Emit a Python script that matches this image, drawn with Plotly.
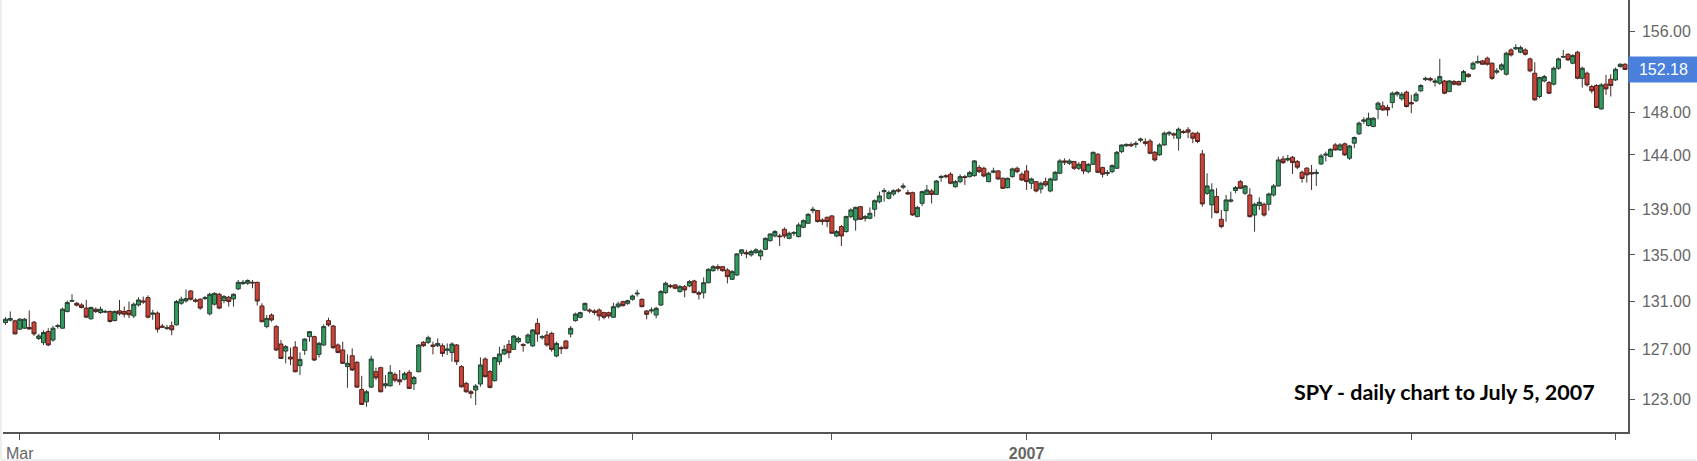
import math
import pandas as pd
import plotly.graph_objects as go

# ---- trading calendar (categories) ----
holidays = ['2006-04-14', '2006-05-29', '2006-07-04', '2006-09-04', '2006-11-23',
            '2006-12-25', '2007-01-01', '2007-01-02', '2007-01-15', '2007-02-19',
            '2007-04-06', '2007-05-28', '2007-07-04']
dates = [d.strftime('%Y-%m-%d') for d in pd.bdate_range('2006-02-24', '2007-07-05')
         if d.strftime('%Y-%m-%d') not in holidays]

tick_dates = ['2006-03-01', '2006-05-01', '2006-07-03', '2006-09-01', '2006-11-01',
              '2007-01-03', '2007-03-01', '2007-05-01', '2007-07-02']
tick_labels = ['Mar', '', '', '', '', '<b>2007</b>', '', '', '']

price_ticks = [123, 127, 131, 135, 139, 144, 148, 156]
last_price = 152.18

# ---- SPY daily OHLC ----
opens = [
    129.23, 129.43, 129.37, 128.68, 128.76, 128.82, 129.26, 127.90, 127.56, 128.48,
    127.78, 128.90, 128.76, 130.16, 131.02, 130.85, 130.71, 130.44, 129.54, 130.35,
    130.07, 130.10, 130.16, 129.40, 130.21, 130.16, 130.24, 129.79, 130.71, 131.05,
    131.33, 129.93, 130.02, 128.93, 128.73, 128.96, 129.04, 130.85, 131.05, 131.89,
    131.13, 131.19, 131.24, 129.96, 130.77, 131.61, 131.08, 131.36, 131.22, 132.07,
    132.52, 132.55, 132.63, 132.63, 130.62, 128.89, 129.86, 128.89, 127.45, 126.87,
    126.38, 127.20, 125.68, 126.93, 128.06, 128.06, 126.60, 127.37, 129.39, 128.94,
    127.37, 126.96, 125.60, 126.49, 125.95, 123.77, 122.78, 123.95, 125.19, 125.52,
    124.06, 124.06, 124.97, 124.54, 124.59, 125.14, 124.22, 125.19, 127.59, 127.59,
    127.37, 127.31, 127.31, 126.93, 126.76, 127.37, 125.60, 124.25, 123.58, 123.72,
    124.20, 126.22, 125.20, 124.47, 126.00, 126.63, 127.42, 127.01, 127.64, 127.42,
    127.56, 127.29, 129.16, 127.97, 128.19, 128.33, 126.47, 127.15, 127.70, 128.27,
    129.39, 129.67, 130.28, 130.28, 130.20, 130.28, 130.06, 130.06, 129.67, 130.56,
    130.98, 130.84, 131.18, 131.64, 131.18, 130.20, 130.20, 129.86, 130.70, 131.75,
    132.35, 132.41, 131.84, 132.26, 132.32, 132.75, 131.74, 131.74, 132.60, 133.63,
    133.98, 133.98, 133.69, 132.89, 133.26, 135.15, 135.20, 135.00, 135.20, 134.91,
    135.49, 136.25, 136.66, 136.66, 137.25, 136.45, 136.90, 136.60, 137.43, 137.79,
    138.92, 138.92, 138.08, 138.32, 138.44, 136.66, 137.49, 137.05, 138.38, 138.08,
    139.27, 138.23, 138.23, 139.04, 139.72, 140.63, 140.03, 140.42, 140.79, 141.03,
    140.54, 140.54, 138.38, 139.57, 140.38, 140.69, 140.38, 141.92, 142.09, 142.22,
    141.08, 141.54, 142.00, 142.00, 142.09, 142.83, 142.77, 141.54, 142.40, 142.52,
    141.85, 140.99, 142.00, 142.77, 142.22, 142.52, 141.39, 141.54, 140.87, 141.54,
    140.69, 141.69, 142.31, 143.45, 143.23, 143.39, 142.77, 143.39, 142.46, 143.14,
    144.07, 142.83, 142.28, 142.46, 142.77, 144.31, 144.86, 144.99, 144.99, 145.37,
    145.24, 145.30, 144.25, 144.01, 144.94, 145.98, 145.98, 145.57, 146.20, 146.36,
    146.04, 146.04, 144.10, 140.48, 139.43, 140.18, 138.14, 138.91, 139.76, 140.73,
    141.54, 140.48, 140.33, 138.52, 139.37, 139.49, 139.49, 140.33, 141.15, 143.63,
    143.54, 143.79, 143.39, 142.40, 142.78, 142.37, 142.28, 143.17, 143.98, 143.85,
    144.94, 144.47, 145.04, 143.70, 145.10, 145.98, 147.17, 146.77, 146.67, 148.32,
    148.64, 148.48, 148.96, 149.77, 149.32, 149.97, 148.96, 149.13, 150.09, 151.18,
    151.28, 150.92, 150.83, 151.05, 150.02, 150.99, 150.99, 150.99, 151.71, 152.23,
    152.83, 153.02, 153.29, 152.79, 151.91, 152.20, 151.71, 154.11, 154.21, 153.88,
    154.11, 153.22, 151.81, 149.54, 151.05, 150.89, 150.74, 152.30, 153.39, 153.68,
    152.79, 153.88, 151.31, 151.81, 150.51, 150.61, 148.35, 150.74, 151.22, 151.15,
    152.46, 152.69,
]
highs = [
    129.68, 130.16, 129.46, 129.60, 129.60, 130.24, 129.37, 128.29, 128.57, 128.76,
    128.96, 129.12, 130.49, 131.08, 131.61, 130.96, 130.85, 131.13, 130.57, 130.49,
    130.57, 130.30, 130.24, 130.24, 131.13, 130.57, 130.99, 130.91, 131.36, 131.41,
    131.52, 130.30, 130.16, 129.12, 129.04, 129.32, 131.13, 131.41, 132.02, 131.97,
    131.27, 131.27, 131.47, 131.75, 131.77, 131.75, 131.55, 131.47, 131.69, 132.83,
    132.83, 132.89, 132.83, 132.69, 130.85, 129.86, 130.00, 129.03, 127.78, 127.37,
    127.15, 127.69, 126.76, 127.91, 128.53, 128.14, 127.64, 129.08, 129.64, 129.03,
    127.50, 127.64, 126.60, 127.09, 126.06, 124.86, 123.72, 126.49, 125.52, 125.60,
    124.92, 125.73, 125.14, 125.33, 125.19, 125.33, 124.86, 127.42, 127.69, 128.14,
    127.64, 127.91, 127.50, 127.50, 127.59, 127.45, 125.73, 124.38, 123.72, 124.20,
    126.36, 126.36, 125.33, 126.41, 127.23, 127.37, 127.78, 128.19, 128.06, 127.50,
    128.33, 128.69, 129.58, 128.19, 128.55, 128.47, 127.64, 127.29, 127.78, 128.94,
    130.06, 130.14, 130.90, 130.42, 130.34, 130.42, 130.14, 130.14, 130.90, 130.98,
    131.07, 131.15, 131.58, 131.98, 131.27, 130.28, 130.51, 130.56, 131.98, 132.69,
    132.49, 132.49, 132.41, 132.41, 132.83, 132.85, 131.91, 133.06, 133.84, 134.12,
    134.18, 134.04, 133.84, 133.69, 135.15, 135.49, 135.44, 135.44, 135.58, 135.49,
    136.54, 136.87, 137.19, 136.84, 137.43, 137.05, 137.10, 137.85, 138.14, 138.68,
    139.27, 138.98, 138.23, 138.38, 138.53, 137.19, 137.64, 138.47, 139.12, 139.27,
    139.33, 138.53, 139.21, 139.93, 140.63, 140.94, 140.72, 140.85, 140.94, 141.39,
    140.79, 140.63, 139.33, 140.72, 141.24, 140.87, 141.69, 142.16, 142.22, 142.40,
    141.69, 142.22, 142.16, 142.53, 143.54, 143.07, 142.92, 142.46, 142.83, 142.61,
    141.91, 141.91, 142.83, 142.92, 142.40, 143.07, 141.91, 141.60, 141.54, 141.91,
    141.91, 142.52, 143.63, 143.69, 143.63, 143.45, 143.33, 143.45, 143.23, 144.31,
    144.16, 142.92, 142.61, 143.14, 144.37, 144.99, 145.08, 145.18, 145.30, 145.62,
    145.56, 145.49, 144.37, 145.10, 146.20, 146.26, 146.11, 146.58, 146.36, 146.61,
    146.14, 146.20, 144.47, 142.31, 141.39, 140.94, 138.97, 140.33, 140.64, 141.15,
    141.69, 141.24, 140.94, 139.64, 140.12, 139.64, 140.54, 141.33, 143.85, 143.91,
    144.01, 143.91, 143.54, 142.56, 142.87, 143.07, 142.68, 144.10, 144.32, 144.63,
    145.10, 145.10, 145.16, 144.94, 145.73, 147.14, 147.55, 147.99, 147.55, 149.06,
    149.06, 148.74, 150.02, 150.09, 149.97, 150.09, 149.70, 149.97, 150.74, 151.48,
    151.44, 151.31, 153.22, 151.15, 151.15, 151.15, 151.09, 152.14, 151.81, 152.96,
    153.55, 153.12, 153.45, 152.89, 152.30, 152.79, 153.94, 154.27, 154.68, 154.54,
    154.27, 153.35, 152.89, 151.48, 151.64, 151.05, 152.46, 153.35, 154.11, 153.78,
    153.68, 154.01, 152.46, 151.97, 150.67, 150.74, 150.83, 151.64, 151.71, 152.36,
    152.79, 152.79,
]
lows = [
    129.04, 129.32, 128.23, 128.62, 128.70, 128.62, 128.12, 127.78, 127.37, 127.28,
    127.64, 128.73, 128.70, 130.07, 130.96, 130.57, 130.41, 129.60, 129.49, 130.02,
    129.96, 130.02, 129.23, 129.32, 129.82, 129.65, 129.60, 129.60, 130.57, 130.80,
    129.57, 129.46, 128.40, 128.76, 128.62, 128.17, 128.98, 130.71, 130.91, 131.08,
    130.91, 130.30, 131.13, 129.82, 130.66, 130.35, 130.85, 130.57, 130.57, 131.98,
    132.41, 132.41, 132.12, 130.65, 129.25, 128.75, 129.30, 126.87, 126.22, 125.87,
    125.73, 125.14, 124.92, 126.55, 127.64, 126.06, 126.33, 127.28, 128.89, 127.04,
    126.68, 125.82, 123.90, 125.25, 123.90, 122.52, 122.39, 123.90, 124.51, 123.53,
    123.85, 123.98, 124.33, 124.11, 124.49, 123.80, 123.72, 125.14, 127.20, 127.45,
    126.60, 127.20, 126.41, 126.55, 126.00, 125.73, 123.90, 123.50, 123.05, 122.52,
    123.99, 124.73, 123.85, 124.39, 125.74, 126.55, 126.28, 126.96, 127.50, 126.82,
    127.45, 127.23, 127.64, 127.83, 127.23, 126.82, 126.36, 126.63, 127.01, 128.00,
    129.30, 129.58, 130.20, 130.00, 129.86, 129.39, 129.50, 129.58, 129.61, 130.42,
    130.56, 130.70, 131.07, 131.41, 130.51, 129.50, 130.00, 129.58, 130.62, 131.64,
    132.12, 132.04, 131.75, 131.35, 132.21, 131.70, 131.16, 131.25, 132.54, 133.55,
    133.63, 133.55, 132.54, 132.83, 133.17, 134.91, 134.71, 134.85, 135.09, 134.56,
    135.44, 136.16, 136.54, 135.78, 136.45, 136.37, 136.66, 136.54, 137.34, 137.73,
    138.68, 137.85, 137.64, 137.43, 136.84, 136.54, 135.78, 136.96, 138.23, 137.13,
    138.08, 137.94, 138.14, 138.38, 139.57, 139.72, 139.93, 140.24, 140.54, 140.85,
    140.33, 138.44, 138.32, 139.33, 140.32, 139.56, 140.32, 141.54, 141.85, 141.30,
    140.99, 141.39, 141.24, 141.92, 142.00, 142.31, 141.94, 141.48, 142.31, 141.69,
    140.87, 140.93, 141.91, 142.31, 141.60, 140.78, 140.87, 140.57, 140.47, 141.08,
    140.57, 141.60, 142.22, 143.07, 143.07, 142.61, 142.61, 142.22, 142.31, 143.07,
    142.31, 141.92, 142.06, 142.31, 142.71, 144.16, 144.74, 144.74, 144.67, 145.18,
    144.86, 144.06, 143.39, 143.91, 144.84, 145.79, 145.51, 144.41, 145.98, 145.57,
    145.10, 145.10, 139.27, 140.33, 138.23, 138.67, 137.34, 137.93, 139.64, 140.48,
    140.85, 140.33, 138.29, 137.04, 138.97, 138.38, 138.91, 140.18, 141.09, 143.17,
    143.39, 142.25, 142.68, 141.45, 141.45, 140.79, 141.15, 143.07, 143.39, 143.79,
    144.41, 144.38, 143.91, 143.54, 144.63, 145.88, 146.93, 146.67, 146.61, 147.36,
    148.16, 147.68, 148.42, 149.54, 149.13, 148.48, 147.94, 149.00, 149.97, 151.05,
    150.99, 150.51, 150.67, 149.77, 149.97, 150.61, 150.61, 150.92, 151.38, 152.14,
    152.76, 152.63, 152.56, 151.15, 151.71, 152.04, 151.58, 153.45, 154.11, 153.78,
    153.55, 151.91, 149.13, 149.38, 150.92, 149.77, 150.61, 152.14, 153.35, 153.02,
    152.69, 151.22, 150.41, 150.51, 149.86, 148.42, 148.26, 149.70, 149.54, 151.05,
    152.36, 152.11,
]
closes = [
    129.51, 129.57, 128.29, 129.51, 129.51, 128.70, 128.29, 128.12, 128.40, 127.37,
    128.76, 128.96, 130.35, 130.91, 131.08, 130.69, 130.49, 129.68, 130.49, 130.16,
    130.35, 130.16, 129.32, 130.16, 129.96, 129.93, 129.88, 130.77, 131.13, 130.96,
    129.68, 130.02, 128.68, 128.84, 128.79, 128.62, 130.99, 131.19, 131.24, 131.19,
    131.02, 130.44, 131.33, 131.61, 131.69, 130.44, 131.41, 130.99, 131.61, 132.63,
    132.63, 132.78, 132.58, 131.04, 129.30, 129.58, 129.44, 126.96, 126.27, 127.23,
    126.22, 125.19, 126.19, 127.86, 128.47, 126.14, 127.50, 128.89, 129.03, 127.15,
    126.76, 125.87, 125.87, 125.33, 123.95, 122.57, 123.58, 126.22, 124.70, 123.58,
    124.22, 125.14, 124.51, 124.38, 125.03, 123.85, 124.73, 127.37, 127.31, 127.97,
    127.26, 127.50, 126.68, 127.04, 127.45, 126.00, 123.98, 123.58, 123.45, 124.04,
    125.74, 124.79, 123.93, 126.33, 126.63, 127.01, 126.74, 128.11, 127.92, 127.34,
    128.19, 128.61, 128.27, 128.06, 127.37, 127.01, 127.50, 127.07, 127.10, 128.75,
    129.94, 130.06, 130.84, 130.20, 130.08, 129.78, 129.67, 129.78, 130.56, 130.79,
    130.65, 131.07, 131.47, 131.70, 130.56, 129.92, 130.28, 130.42, 131.84, 132.55,
    132.26, 132.12, 132.26, 131.98, 132.69, 131.75, 131.62, 132.60, 133.75, 133.98,
    133.84, 133.63, 133.12, 133.55, 135.09, 135.44, 135.09, 135.29, 135.44, 135.35,
    136.45, 136.84, 137.05, 136.60, 136.66, 136.90, 136.96, 137.64, 138.02, 138.59,
    139.04, 137.94, 137.94, 137.94, 136.90, 137.05, 136.66, 138.38, 138.98, 139.21,
    138.14, 138.38, 138.68, 139.81, 140.24, 140.72, 140.54, 140.72, 140.69, 141.15,
    140.42, 138.53, 139.21, 140.63, 140.78, 140.38, 141.60, 142.00, 142.00, 141.39,
    141.54, 142.00, 141.92, 142.37, 143.45, 142.46, 142.06, 142.31, 142.52, 141.79,
    140.93, 141.85, 142.71, 142.46, 141.69, 141.54, 141.79, 140.69, 141.39, 141.24,
    141.79, 142.40, 143.45, 143.33, 143.45, 142.77, 143.14, 142.52, 143.14, 144.25,
    142.40, 142.22, 142.37, 143.01, 144.25, 144.93, 144.99, 144.86, 145.08, 145.49,
    145.08, 144.16, 143.54, 144.94, 146.04, 146.11, 145.88, 146.42, 146.11, 146.14,
    145.57, 145.26, 139.52, 141.15, 140.79, 138.73, 137.49, 139.88, 139.88, 141.00,
    140.94, 141.15, 138.38, 139.49, 139.67, 138.52, 140.42, 141.15, 143.54, 143.29,
    143.67, 143.29, 142.87, 141.84, 142.16, 142.25, 142.40, 143.91, 144.07, 144.53,
    144.47, 144.94, 144.01, 144.84, 145.63, 146.99, 147.30, 147.46, 147.46, 148.90,
    148.25, 148.25, 149.86, 149.93, 149.77, 148.58, 148.83, 149.77, 150.61, 151.31,
    151.15, 151.05, 151.48, 149.86, 151.05, 150.74, 150.67, 151.97, 151.48, 152.79,
    152.96, 152.69, 152.69, 151.31, 152.04, 152.63, 153.78, 153.61, 154.34, 154.34,
    153.68, 152.04, 149.22, 151.38, 151.48, 149.86, 152.30, 153.22, 153.45, 153.12,
    153.55, 151.31, 152.30, 150.67, 150.09, 148.48, 150.67, 150.28, 150.61, 152.20,
    152.69, 152.18,
]

n = len(dates)
assert n == len(opens) == len(highs) == len(lows) == len(closes), (n, len(opens), len(highs), len(lows), len(closes))

fig = go.Figure(go.Candlestick(
    x=dates, open=opens, high=highs, low=lows, close=closes,
    increasing=dict(line=dict(color='#2b3d33', width=1), fillcolor='#2f9c5e'),
    decreasing=dict(line=dict(color='#4d2622', width=1), fillcolor='#cc4338'),
    whiskerwidth=0, hoverinfo='skip', showlegend=False,
))

tick_font = dict(family='Liberation Sans, Arial, sans-serif', size=16, color='#666666')

fig.update_layout(
    width=1697, height=461,
    margin=dict(l=3, r=69, t=0, b=29),
    paper_bgcolor='white', plot_bgcolor='white',
    showlegend=False,
    boxgap=0.15, boxgroupgap=0,
    xaxis=dict(
        type='category', range=[-0.53, n - 1 + 0.63],
        rangeslider=dict(visible=False),
        tickmode='array', tickvals=tick_dates, ticktext=tick_labels,
        ticks='outside', ticklen=6, tickcolor='#555555', tickwidth=1,
        showline=True, linecolor='#555555', linewidth=1.5,
        showgrid=False, zeroline=False, tickfont=tick_font,
    ),
    yaxis=dict(
        type='log', side='right',
        range=[math.log10(120.41), math.log10(159.16)],
        tickmode='array', tickvals=price_ticks, tickformat='.2f',
        ticks='outside', ticklen=5, tickcolor='#555555', tickwidth=1,
        ticklabelstandoff=4,
        showline=True, linecolor='#555555', linewidth=1.5,
        showgrid=False, zeroline=False, tickfont=tick_font,
    ),
    annotations=[
        dict(x=1, xref='paper', xanchor='left', y=math.log10(last_price), yref='y', yanchor='middle',
             text=f'{last_price:.2f}', showarrow=False, bgcolor='#4a7fdc',
             font=dict(family='Liberation Sans, Arial, sans-serif', size=16, color='white'),
             width=65, height=21, borderpad=2),
        dict(x=(1597 - 3) / 1625, xref='paper', xanchor='right', y=(432 - 392) / 432, yref='paper',
             yanchor='middle', text='<b>SPY - daily chart to July 5, 2007</b>', showarrow=False,
             font=dict(family='Lato, Carlito, sans-serif', size=21.5, color='black')),
    ],
    shapes=[
        dict(type='line', xref='paper', yref='paper', x0=-2 / 1625, x1=-2 / 1625, y0=1, y1=(432 - 460) / 432,
             line=dict(color='#dddddd', width=1)),
        dict(type='line', xref='paper', yref='paper', x0=-2 / 1625, x1=(1696 - 3) / 1625,
             y0=(432 - 460) / 432, y1=(432 - 460) / 432, line=dict(color='#dddddd', width=1)),
    ],
)

fig.write_html("out.html", config={'displayModeBar': False},
               post_script="document.body.style.margin='0';")
